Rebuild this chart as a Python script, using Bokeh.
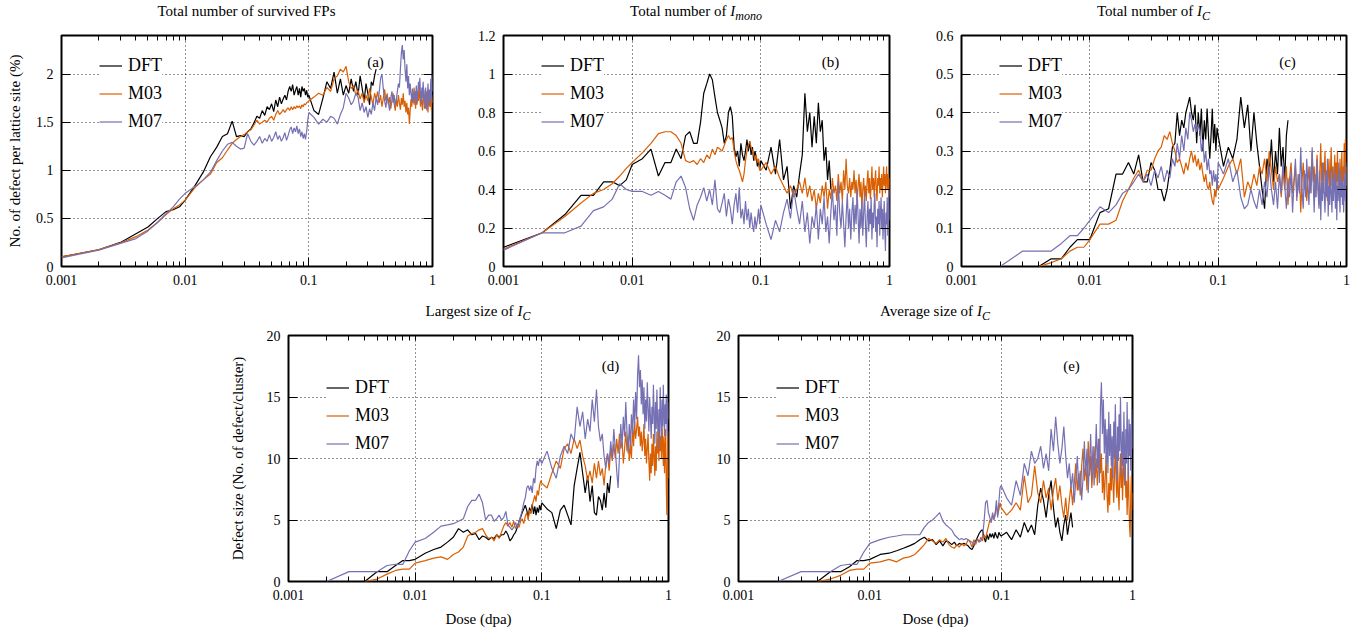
import numpy as np
from bokeh.plotting import figure
from bokeh.models import (Range1d, FixedTicker, PrintfTickFormatter, LogAxis,
                          LinearAxis, Label, Spacer, Div)
from bokeh.layouts import row, column
from bokeh.embed import file_html
from bokeh.resources import INLINE

FONT = "Liberation Serif"
COLORS = {"DFT": "#000000", "M03": "#d95f02", "M07": "#7570b3"}

# ---------------- dose grid (dpa) ----------------
dose = [0.001, 0.002, 0.003, 0.004, 0.005, 0.006, 0.007, 0.008, 0.009,
        0.010, 0.012, 0.014, 0.016, 0.018, 0.020, 0.022, 0.024, 0.026, 0.028,
        0.030, 0.032, 0.034, 0.036, 0.038, 0.040, 0.042, 0.044, 0.046, 0.048,
        0.050, 0.052, 0.054, 0.056, 0.058, 0.060, 0.062, 0.064, 0.066, 0.068,
        0.070, 0.072, 0.074, 0.076, 0.078, 0.080, 0.082, 0.084, 0.086, 0.088,
        0.090, 0.092, 0.094, 0.096, 0.098,
        0.10, 0.11, 0.12, 0.13, 0.14, 0.15, 0.16, 0.17, 0.18, 0.19,
        0.20, 0.21, 0.22, 0.23, 0.24, 0.25, 0.26, 0.27, 0.28, 0.29,
        0.30, 0.31, 0.32, 0.33, 0.34, 0.35, 0.36, 0.37, 0.38, 0.39,
        0.40, 0.41, 0.42, 0.43, 0.44, 0.45, 0.46, 0.47, 0.48, 0.49,
        0.50, 0.51, 0.52, 0.53, 0.54, 0.55, 0.56, 0.57, 0.58, 0.59,
        0.60, 0.61, 0.62, 0.63, 0.64, 0.65, 0.66, 0.67, 0.68, 0.69,
        0.70, 0.71, 0.72, 0.73, 0.74, 0.75, 0.76, 0.77, 0.78, 0.79,
        0.80, 0.81, 0.82, 0.83, 0.84, 0.85, 0.86, 0.87, 0.88, 0.89,
        0.90, 0.91, 0.92, 0.93, 0.94, 0.95, 0.96, 0.97, 0.98, 0.99, 1.00]

x_major = [0.001, 0.01, 0.1, 1]
x_minor = [0.002, 0.003, 0.004, 0.005, 0.006, 0.007, 0.008, 0.009,
           0.02, 0.03, 0.04, 0.05, 0.06, 0.07, 0.08, 0.09,
           0.2, 0.3, 0.4, 0.5, 0.6, 0.7, 0.8, 0.9]

# ---------------- (a) total number of survived FPs (%) ----------------
fps_dft = [0.10, 0.174, 0.25, 0.34, 0.41, 0.50, 0.57, 0.59, 0.62,
           0.69, 0.84, 0.98, 1.14, 1.24, 1.35, 1.38, 1.51, 1.35, 1.36,
           1.35, 1.40, 1.43, 1.49, 1.56, 1.54, 1.62, 1.57, 1.66, 1.63,
           1.69, 1.61, 1.73, 1.66, 1.76, 1.69, 1.74, 1.78, 1.73, 1.82,
           1.87, 1.82, 1.89, 1.78, 1.83, 1.87, 1.78, 1.85, 1.76, 1.87,
           1.82, 1.85, 1.78, 1.83, 1.76,
           1.78, 1.62, 1.58, 1.75, 1.92, 1.85, 2.02, 1.80, 1.95, 1.78,
           1.88, 1.80, 1.95, 1.82, 1.92, 1.78, 1.98, 1.85, 1.72, 1.90,
           1.80, 1.68, 1.92, 1.88, 1.98, 2.05]
fps_m03 = [0.10, 0.175, 0.245, 0.31, 0.38, 0.46, 0.54, 0.60, 0.64,
           0.69, 0.82, 0.90, 0.96, 1.08, 1.13, 1.21, 1.28, 1.32, 1.35,
           1.37, 1.40, 1.42, 1.47, 1.52, 1.48, 1.50, 1.52, 1.50, 1.54,
           1.56, 1.52, 1.58, 1.62, 1.58, 1.60, 1.63, 1.60, 1.63, 1.65,
           1.62, 1.66, 1.63, 1.66, 1.64, 1.67, 1.65, 1.67, 1.64, 1.68,
           1.66, 1.69, 1.68, 1.70, 1.71,
           1.72, 1.76, 1.80, 1.78, 1.86, 1.82, 1.95, 1.98, 2.05, 2.02,
           2.08, 1.92, 1.85, 1.88, 1.78, 1.83, 1.74, 1.80, 1.70, 1.78,
           1.72, 1.85, 1.76, 1.68, 1.80, 1.74, 1.82, 1.70, 1.78, 1.66,
           1.75, 1.84, 1.72, 1.80, 1.68, 1.76, 1.64, 1.73, 1.80, 1.69,
           1.62, 1.74, 1.66, 1.78, 1.70, 1.63, 1.75, 1.68, 1.80, 1.66,
           1.72, 1.60, 1.70, 1.58, 1.65, 1.48, 1.62, 1.74, 1.66, 1.80,
           1.70, 1.86, 1.75, 1.64, 1.78, 1.68, 1.82, 1.72, 1.90, 1.76,
           1.66, 1.80, 1.70, 1.62, 1.76, 1.84, 1.68, 1.78, 1.64, 1.74,
           1.82, 1.70, 1.60, 1.76, 1.68, 1.80, 1.66, 1.74, 1.62, 1.78,
           1.70]
fps_m07 = [0.09, 0.17, 0.24, 0.29, 0.37, 0.46, 0.55, 0.62, 0.70,
           0.76, 0.83, 0.90, 0.98, 1.10, 1.20, 1.27, 1.29, 1.25, 1.22,
           1.23, 1.38, 1.30, 1.26, 1.30, 1.35, 1.28, 1.33, 1.30, 1.37,
           1.30, 1.34, 1.40, 1.32, 1.36, 1.30, 1.34, 1.39, 1.31, 1.36,
           1.42, 1.45, 1.38, 1.44, 1.40, 1.46, 1.38, 1.43, 1.35, 1.40,
           1.33, 1.38, 1.32, 1.40, 1.52,
           1.60, 1.55, 1.48, 1.53, 1.50, 1.56, 1.54, 1.48, 1.58, 1.65,
           1.80, 1.75, 1.68, 1.72, 1.80, 1.76, 1.62, 1.70, 1.60, 1.66,
           1.55, 1.64, 1.58, 1.70, 1.62, 1.76, 1.68, 1.80, 1.95, 2.00,
           1.85, 1.72, 1.65, 1.78, 1.70, 1.62, 1.75, 1.82, 1.70, 1.78,
           1.66, 1.74, 1.82, 1.90, 1.86, 2.05, 2.22, 2.30, 2.15, 2.25,
           2.05, 1.92, 2.10, 1.85, 1.98, 1.78, 1.90, 1.80, 1.72, 1.85,
           1.76, 1.68, 1.82, 1.74, 1.88, 1.70, 1.80, 1.92, 1.84, 1.96,
           1.78, 1.70, 1.86, 1.75, 1.92, 1.80, 1.64, 1.76, 1.86, 1.70,
           1.62, 1.78, 1.90, 1.72, 1.84, 1.66, 1.80, 1.95, 1.74, 2.00,
           1.82]

# ---------------- (b) total number of I_mono ----------------
imono_dft = [0.10, 0.175, 0.27, 0.37, 0.37, 0.44, 0.44, 0.42, 0.45,
             0.53, 0.56, 0.61, 0.47, 0.54, 0.54, 0.61, 0.56, 0.68, 0.70,
             0.64, 0.64, 0.75, 0.90, 0.95, 1.00, 0.97, 0.88, 0.80, 0.76,
             0.72, 0.64, 0.68, 0.80, 0.83, 0.78, 0.62, 0.57, 0.60, 0.52,
             0.64, 0.58, 0.55, 0.60, 0.66, 0.60, 0.65, 0.58, 0.62, 0.55,
             0.60, 0.57, 0.52, 0.55, 0.50,
             0.55, 0.50, 0.62, 0.48, 0.66, 0.45, 0.52, 0.30, 0.42, 0.36,
             0.48, 0.58, 0.90, 0.70, 0.80, 0.62, 0.78, 0.64, 0.85, 0.70,
             0.76, 0.55, 0.62, 0.45, 0.55, 0.40]
imono_m03 = [0.09, 0.175, 0.26, 0.33, 0.38, 0.40, 0.43, 0.47, 0.51,
             0.54, 0.59, 0.64, 0.69, 0.70, 0.70, 0.68, 0.64, 0.55, 0.54,
             0.55, 0.53, 0.56, 0.54, 0.58, 0.56, 0.61, 0.58, 0.62, 0.61,
             0.60, 0.63, 0.66, 0.68, 0.66, 0.67, 0.60, 0.55, 0.52, 0.50,
             0.47, 0.44, 0.48, 0.55, 0.60, 0.63, 0.65, 0.62, 0.60, 0.58,
             0.55, 0.58, 0.54, 0.56, 0.50,
             0.50, 0.54, 0.48, 0.52, 0.46, 0.42, 0.38, 0.42, 0.36, 0.40,
             0.44, 0.38, 0.46, 0.36, 0.42, 0.34, 0.40, 0.30, 0.38, 0.33,
             0.42, 0.36, 0.44, 0.30, 0.40, 0.35, 0.46, 0.38, 0.42, 0.34,
             0.48, 0.38, 0.44, 0.34, 0.50, 0.40, 0.56, 0.42, 0.38, 0.46,
             0.36, 0.44, 0.40, 0.50, 0.38, 0.45, 0.34, 0.42, 0.48, 0.36,
             0.44, 0.30, 0.40, 0.46, 0.36, 0.42, 0.34, 0.44, 0.50, 0.38,
             0.46, 0.35, 0.42, 0.52, 0.40, 0.46, 0.36, 0.44, 0.50, 0.40,
             0.34, 0.46, 0.42, 0.52, 0.38, 0.46, 0.40, 0.48, 0.36, 0.44,
             0.52, 0.42, 0.48, 0.38, 0.46, 0.52, 0.40, 0.48, 0.44, 0.36,
             0.46]
imono_m07 = [0.085, 0.175, 0.175, 0.21, 0.29, 0.31, 0.35, 0.43, 0.40,
             0.39, 0.39, 0.37, 0.39, 0.37, 0.35, 0.44, 0.47, 0.41, 0.30,
             0.24, 0.32, 0.36, 0.41, 0.34, 0.40, 0.32, 0.45, 0.30, 0.28,
             0.33, 0.38, 0.26, 0.35, 0.30, 0.22, 0.32, 0.38, 0.28, 0.41,
             0.25, 0.30, 0.22, 0.34, 0.24, 0.30, 0.20, 0.28, 0.22, 0.18,
             0.26, 0.20, 0.24, 0.30, 0.22,
             0.32, 0.22, 0.14, 0.24, 0.18, 0.28, 0.35, 0.25, 0.40, 0.30,
             0.22, 0.34, 0.18, 0.28, 0.12, 0.26, 0.20, 0.32, 0.14, 0.30,
             0.22, 0.36, 0.18, 0.26, 0.12, 0.28, 0.40, 0.24, 0.32, 0.16,
             0.44, 0.28, 0.20, 0.34, 0.22, 0.10, 0.26, 0.38, 0.20, 0.30,
             0.14, 0.28, 0.36, 0.18, 0.32, 0.22, 0.40, 0.26, 0.12, 0.30,
             0.20, 0.34, 0.16, 0.28, 0.38, 0.22, 0.10, 0.26, 0.34, 0.18,
             0.30, 0.22, 0.36, 0.14, 0.28, 0.20, 0.32, 0.38, 0.18, 0.26,
             0.10, 0.30, 0.22, 0.34, 0.16, 0.28, 0.36, 0.20, 0.30, 0.14,
             0.26, 0.34, 0.18, 0.08, 0.28, 0.22, 0.36, 0.16, 0.30, 0.40,
             0.24]

# ---------------- (c) total number of I_C (DFT, M03 from 0.004; M07 from 0.002) ----------------
ic_dft = [0.0, 0.02, 0.02, 0.05, 0.07, 0.07,
          0.07, 0.14, 0.15, 0.24, 0.24, 0.27, 0.24, 0.29, 0.22, 0.22,
          0.27, 0.25, 0.20, 0.20, 0.17, 0.20, 0.25, 0.31, 0.32, 0.40,
          0.34, 0.38, 0.36, 0.40, 0.42, 0.44, 0.40, 0.38, 0.42, 0.32,
          0.40, 0.34, 0.41, 0.30, 0.38, 0.33, 0.41, 0.34, 0.28, 0.34,
          0.41, 0.32, 0.37, 0.30, 0.36,
          0.34, 0.26, 0.31, 0.28, 0.33, 0.44, 0.36, 0.42, 0.30, 0.40,
          0.32, 0.26, 0.20, 0.15, 0.28, 0.24, 0.33, 0.22, 0.30, 0.24,
          0.36, 0.26, 0.31, 0.22, 0.34, 0.38]
ic_m03 = [0.0, 0.01, 0.02, 0.04, 0.05, 0.05,
          0.07, 0.11, 0.11, 0.12, 0.17, 0.20, 0.23, 0.25, 0.22, 0.25,
          0.25, 0.28, 0.30, 0.31, 0.34, 0.33, 0.35, 0.32, 0.30, 0.27,
          0.28, 0.26, 0.24, 0.27, 0.25, 0.28, 0.30, 0.27, 0.29, 0.26,
          0.28, 0.25, 0.27, 0.24, 0.22, 0.24, 0.21, 0.20, 0.22, 0.19,
          0.17, 0.16, 0.20, 0.18, 0.22,
          0.20, 0.23, 0.26, 0.28, 0.24, 0.28, 0.18, 0.22, 0.20, 0.24,
          0.21, 0.26, 0.24, 0.28, 0.22, 0.30, 0.25, 0.20, 0.26, 0.22,
          0.24, 0.18, 0.25, 0.20, 0.26, 0.16, 0.23, 0.27, 0.19, 0.22,
          0.26, 0.18, 0.21, 0.24, 0.14, 0.22, 0.27, 0.20, 0.24, 0.17,
          0.22, 0.26, 0.19, 0.23, 0.30, 0.22, 0.26, 0.18, 0.24, 0.29,
          0.21, 0.16, 0.25, 0.32, 0.22, 0.27, 0.19, 0.24, 0.30, 0.20,
          0.25, 0.17, 0.23, 0.28, 0.20, 0.25, 0.31, 0.21, 0.26, 0.18,
          0.24, 0.29, 0.20, 0.27, 0.22, 0.30, 0.19, 0.25, 0.21, 0.28,
          0.18, 0.24, 0.30, 0.20, 0.26, 0.22, 0.32, 0.24, 0.33, 0.20,
          0.26]
ic_m07 = [0.0, 0.04, 0.04, 0.04, 0.06, 0.08, 0.08, 0.10,
          0.12, 0.155, 0.14, 0.16, 0.19, 0.20, 0.22, 0.24, 0.22, 0.24,
          0.21, 0.25, 0.23, 0.26, 0.22, 0.25, 0.23, 0.28, 0.26, 0.32,
          0.28, 0.34, 0.30, 0.36, 0.33, 0.40, 0.38, 0.35, 0.37, 0.35,
          0.37, 0.35, 0.30, 0.33, 0.27, 0.30, 0.25, 0.28, 0.24, 0.25,
          0.21, 0.25, 0.22, 0.24, 0.20,
          0.27, 0.24, 0.28, 0.22, 0.25, 0.18, 0.15, 0.16, 0.20, 0.17,
          0.15, 0.20, 0.16, 0.22, 0.18, 0.26, 0.20, 0.16, 0.22, 0.15,
          0.24, 0.19, 0.27, 0.21, 0.15, 0.23, 0.18, 0.25, 0.14, 0.22,
          0.28, 0.17, 0.24, 0.19, 0.31, 0.20, 0.15, 0.25, 0.18, 0.28,
          0.21, 0.16, 0.26, 0.19, 0.31, 0.22, 0.14, 0.24, 0.18, 0.28,
          0.20, 0.15, 0.25, 0.12, 0.22, 0.17, 0.27, 0.19, 0.14, 0.24,
          0.18, 0.28, 0.13, 0.21, 0.16, 0.25, 0.19, 0.14, 0.23, 0.17,
          0.26, 0.20, 0.15, 0.24, 0.12, 0.21, 0.17, 0.27, 0.19, 0.14,
          0.23, 0.18, 0.25, 0.16, 0.22, 0.14, 0.20, 0.24, 0.17, 0.27,
          0.21]

# ---------------- (d) largest size of I_C ----------------
lg_dft = [0.0, 0.8, 0.8, 1.3, 1.7, 1.7,
          1.8, 2.3, 2.6, 2.8, 3.2, 3.6, 4.3, 4.0, 4.2, 3.8,
          3.9, 3.4, 3.7, 3.6, 3.4, 3.6, 3.5, 3.8, 3.6, 3.8,
          3.8, 4.1, 3.8, 3.3, 3.5, 3.8, 4.0, 4.4, 4.9, 5.2,
          5.6, 5.9, 6.2, 5.8, 5.2, 6.0, 5.6, 6.3, 5.5, 6.1,
          5.4, 6.0, 5.6, 6.2, 5.8,
          6.4, 5.9, 5.6, 4.3, 5.8, 6.2, 5.4, 4.6, 7.8, 9.2,
          10.5, 8.8, 7.2, 8.6, 6.5, 7.8, 5.6, 5.4, 6.9, 6.6,
          5.8, 7.2, 6.0, 8.0, 7.2, 8.6]
lg_m03 = [0.0, 0.2, 0.6, 0.9, 1.0, 1.0,
          1.5, 1.7, 1.9, 2.0, 1.8, 2.2, 2.4, 2.8, 3.7, 3.9,
          4.0, 4.2, 4.3, 3.8, 3.5, 3.6, 3.3, 3.8, 3.5, 4.0,
          4.5, 4.8, 4.5, 4.8, 4.4, 4.9, 4.3, 4.6, 4.4, 4.9,
          5.1, 4.7, 5.3, 5.6, 5.0, 5.8, 5.5, 6.2, 6.6, 7.0,
          6.5, 7.4, 7.0, 7.8, 8.2,
          8.0, 7.6, 8.8, 9.8, 9.2, 10.8, 11.2, 10.4, 11.6, 10.8,
          11.5, 10.2, 9.4, 8.2, 9.0, 8.0, 9.6, 8.4, 9.8, 8.6,
          9.2, 7.8, 9.6, 10.4, 9.0, 10.8, 9.8, 11.2, 10.0, 11.6,
          10.4, 12.0, 10.8, 11.4, 9.6, 10.8, 12.2, 10.6, 11.8, 9.8,
          11.2, 10.0, 12.6, 11.0, 13.0, 11.6, 12.4, 13.4, 11.8, 12.6,
          11.0, 12.2, 10.6, 11.4, 12.8, 10.2, 11.6, 9.6, 10.8, 12.0,
          9.8, 8.2, 10.4, 8.8, 11.2, 9.4, 12.0, 10.2, 8.6, 11.0,
          9.0, 12.2, 10.4, 11.6, 9.8, 12.4, 10.6, 11.8, 10.0, 12.6,
          11.2, 9.4, 11.8, 8.8, 10.6, 12.4, 8.0, 5.4, 9.6, 12.2,
          8.4]
lg_m07 = [0.0, 0.8, 0.8, 0.8, 1.3, 1.4, 1.4, 2.5,
          3.2, 3.5, 4.0, 4.5, 4.6, 4.7, 4.9, 5.1, 6.1, 6.6,
          6.6, 7.1, 6.4, 5.0, 5.4, 5.4, 4.9, 5.1, 5.4, 5.0,
          5.2, 5.7, 4.6, 4.4, 4.2, 4.4, 4.8, 4.4, 4.9, 5.3,
          5.8, 6.4, 6.8, 7.6, 7.8, 7.4, 7.8, 7.2, 8.4, 8.0,
          9.2, 9.8, 9.4, 10.0, 9.8,
          9.6, 10.6, 9.2, 8.4, 10.2, 11.0, 10.4, 12.0, 11.4, 14.2,
          12.6, 13.8, 11.6, 13.2, 12.2, 14.8, 13.0, 15.6, 12.6, 11.4,
          12.0, 10.2, 9.2, 10.4, 9.6, 11.4, 10.0, 12.4, 10.8, 9.0,
          7.6, 10.2, 12.8, 11.0, 13.4, 11.8, 14.6, 12.2, 10.4, 12.8,
          11.0, 13.6, 12.0, 14.8, 12.6, 15.4, 13.2, 16.8, 18.4, 15.8,
          17.2, 14.4, 16.4, 13.6, 15.8, 12.4, 14.8, 13.0, 16.2, 14.0,
          12.2, 15.0, 13.4, 11.6, 14.2, 12.8, 16.0, 13.6, 11.2, 14.6,
          12.4, 15.6, 13.0, 10.8, 14.0, 12.2, 15.8, 13.4, 11.6, 14.8,
          12.6, 16.0, 13.8, 11.8, 14.4, 12.8, 15.2, 13.0, 11.8, 14.6,
          13.2]

# ---------------- (e) average size of I_C ----------------
av_dft = [0.0, 0.8, 0.8, 1.2, 1.7, 1.7,
          1.8, 2.2, 2.3, 2.5, 2.7, 2.9, 3.1, 3.4, 3.6, 3.3,
          3.4, 3.0, 3.3, 2.9, 3.3, 3.2, 3.0, 3.2, 2.9, 3.1,
          3.0, 3.1, 3.0, 2.9, 2.7, 2.6, 2.9, 3.3, 3.6, 3.9,
          4.1, 4.2, 3.6, 3.2, 3.8, 3.4, 3.9, 3.6, 3.9, 3.5,
          4.0, 3.7, 3.5, 4.0, 3.8,
          3.7, 4.0, 3.4, 4.2, 3.6, 4.8, 4.0, 4.6, 3.8, 6.2,
          7.6, 6.6, 5.2, 7.0, 8.2, 6.0, 4.4, 5.2, 4.0, 3.3,
          4.6, 5.4, 3.8, 4.8, 5.6, 4.4]
av_m03 = [0.0, 0.2, 0.5, 0.9, 1.0, 1.0,
          1.5, 1.6, 1.8, 1.6, 1.9, 2.0, 2.2, 2.6, 3.0, 3.5,
          3.3, 3.1, 3.4, 3.2, 3.5, 3.0, 2.8, 2.7, 3.0, 2.8,
          3.1, 2.9, 3.0, 3.4, 3.2, 2.8, 3.4, 3.0, 3.5, 3.2,
          3.6, 3.3, 3.8, 3.5, 4.0, 4.5, 5.0, 4.8, 5.4, 5.2,
          5.6, 6.2, 5.4, 5.8, 6.4,
          6.0, 5.4, 5.8, 6.4, 5.8, 8.6, 6.4, 7.0, 9.4, 7.2,
          6.4, 8.2, 6.8, 7.6, 5.8, 7.4, 8.4, 6.6, 7.8, 6.2,
          5.2, 6.8, 5.0, 6.6, 7.8, 6.2, 8.0, 9.6, 7.4, 8.8,
          7.0, 9.4, 10.8, 8.2, 9.6, 7.4, 11.4, 8.6, 10.2, 7.6,
          9.2, 11.0, 8.4, 10.0, 7.8, 9.4, 11.6, 8.8, 10.4, 7.2,
          9.0, 6.6, 8.4, 10.2, 7.0, 5.6, 8.0, 6.2, 9.2, 7.4,
          10.6, 8.0, 6.4, 9.0, 11.2, 8.2, 6.8, 9.8, 7.2, 5.8,
          8.6, 10.4, 7.6, 9.2, 6.6, 8.8, 10.8, 7.8, 9.6, 6.8,
          8.2, 5.4, 7.4, 9.8, 6.2, 4.4, 3.6, 7.0, 8.6, 5.8,
          7.2]
av_m07 = [0.0, 0.8, 0.8, 0.8, 1.3, 1.4, 1.4, 2.4,
          3.1, 3.4, 3.6, 3.7, 3.8, 3.8, 3.8, 3.8, 4.4, 4.8,
          5.0, 5.3, 5.6, 4.9, 4.6, 4.4, 4.2, 3.8, 3.6, 3.4,
          3.5, 3.4, 3.5, 3.4, 3.3, 3.2, 3.0, 3.2, 3.4, 3.2,
          3.3, 3.6, 4.8, 6.4, 6.6, 5.6, 5.2, 4.8, 5.6, 5.0,
          5.4, 6.6, 5.2, 6.4, 7.6,
          7.8, 6.8, 6.2, 8.2, 7.0, 9.6, 8.6, 10.6, 9.6, 10.0,
          11.0, 9.2, 10.4, 9.0, 12.4, 10.6, 13.4, 11.2, 9.6, 10.8,
          12.6, 10.2, 8.4, 9.6, 7.6, 8.8, 6.4, 8.2, 10.2, 7.4,
          9.0, 6.6, 8.4, 11.4, 8.6, 10.8, 7.2, 9.6, 12.0, 8.4,
          11.0, 7.8, 10.0, 12.8, 9.2, 11.6, 8.0, 14.2, 16.2, 12.0,
          14.8, 10.4, 13.2, 9.6, 12.4, 8.8, 13.8, 10.2, 12.8, 9.4,
          11.8, 8.4, 13.0, 10.0, 14.4, 11.0, 8.2, 12.6, 9.8, 13.6,
          10.6, 15.0, 11.4, 8.6, 12.2, 9.4, 13.8, 10.6, 7.8, 12.4,
          9.6, 14.6, 11.0, 8.4, 13.2, 10.2, 12.8, 9.0, 11.6, 14.0,
          10.8]

# first dose index of each series
START = {"fps": (0, 0, 0), "imono": (0, 0, 0), "ic": (3, 3, 1),
         "lg": (3, 3, 1), "av": (3, 3, 1)}
SERIES = {
    "fps": (fps_dft, fps_m03, fps_m07),
    "imono": (imono_dft, imono_m03, imono_m07),
    "ic": (ic_dft, ic_m03, ic_m07),
    "lg": (lg_dft, lg_m03, lg_m07),
    "av": (av_dft, av_m03, av_m07),
}
NAMES = ("DFT", "M03", "M07")

TITLE_TOP = 30   # height of the title strip above each row of panels


def style_axis(ax):
    ax.axis_line_color = None
    ax.major_tick_out = 0
    ax.minor_tick_out = 0
    ax.major_tick_line_color = "black"
    ax.minor_tick_line_color = "black"
    ax.major_tick_line_width = 1
    ax.minor_tick_line_width = 1
    ax.major_label_text_font = FONT
    ax.major_label_text_color = "black"
    ax.major_label_text_font_size = "14px"
    ax.major_label_standoff = 8


def title_div(html, width, bl, fw):
    style = ("width:%dpx;margin-left:%dpx;margin-top:4px;text-align:center;"
             "font-family:'Liberation Serif';font-size:15px;line-height:15px;"
             "color:#000;white-space:nowrap" % (fw, bl))
    return Div(text='<div style="%s">%s</div>' % (style, html),
               width=width, height=TITLE_TOP, margin=(0, 0, 0, 0))


def sub(txt):
    return ('<i>I</i><span style="font-style:italic;font-size:12px;'
            'position:relative;top:4px">%s</span>' % txt)


def make_panel(key, width, height, bl, br, bb, y_end, y_ticks,
               tag, tag_x, tag_y, legend_y,
               ylabel=None, ylabel_standoff=10, xlabel=None):
    bt = 5
    p = figure(width=width, height=height, x_axis_type="log",
               x_range=Range1d(0.001, 1), y_range=Range1d(0, y_end),
               output_backend="svg", toolbar_location=None, title=None,
               min_border_left=bl, min_border_right=br,
               min_border_top=bt, min_border_bottom=bb)
    p.background_fill_color = "white"
    p.border_fill_color = "white"
    p.outline_line_color = "black"
    p.outline_line_width = 2

    fh = height - bt - bb

    xa = p.xaxis[0]
    xa.ticker = FixedTicker(ticks=x_major, minor_ticks=x_minor)
    xa.formatter = PrintfTickFormatter(format="%g")
    style_axis(xa)
    xa.major_tick_in = 9
    xa.minor_tick_in = 5
    ya = p.yaxis[0]
    ya.ticker = FixedTicker(ticks=y_ticks, minor_ticks=[])
    ya.formatter = PrintfTickFormatter(format="%g")
    style_axis(ya)
    ya.major_tick_in = 9
    ya.minor_tick_in = 0

    # mirrored tick marks on top and right (no labels)
    top = LogAxis(ticker=FixedTicker(ticks=[], minor_ticks=x_major + x_minor))
    style_axis(top)
    top.major_tick_in = 0
    top.minor_tick_in = 5
    top.major_label_standoff = 0
    p.add_layout(top, "above")
    right = LinearAxis(ticker=FixedTicker(ticks=[], minor_ticks=y_ticks))
    style_axis(right)
    right.major_tick_in = 0
    right.minor_tick_in = 9
    right.major_label_standoff = 0
    p.add_layout(right, "right")

    p.xgrid.ticker = FixedTicker(ticks=x_major)
    p.ygrid.ticker = FixedTicker(ticks=y_ticks)
    for g in (p.xgrid, p.ygrid):
        g.grid_line_color = "black"
        g.grid_line_alpha = 0.85
        g.grid_line_dash = "1 3"
        g.grid_line_width = 1

    if ylabel:
        ya.axis_label = ylabel
        ya.axis_label_text_font = FONT
        ya.axis_label_text_font_style = "normal"
        ya.axis_label_text_font_size = "15px"
        ya.axis_label_text_color = "black"
        ya.axis_label_standoff = ylabel_standoff
    if xlabel:
        xa.axis_label = xlabel
        xa.axis_label_text_font = FONT
        xa.axis_label_text_font_style = "normal"
        xa.axis_label_text_font_size = "15px"
        xa.axis_label_text_color = "black"
        xa.axis_label_standoff = 8

    for name, vals, s in zip(NAMES, SERIES[key], START[key]):
        xs = dose[s:s + len(vals)]
        if len(xs) != len(vals):
            raise ValueError(f"{key} {name}: {len(vals)} values")
        p.line(np.array(xs), np.array(vals, dtype=float), line_color=COLORS[name],
               line_width=1.2, legend_label=name)

    lg = p.legend[0]
    lg.location = (38, legend_y)
    lg.label_text_font = FONT
    lg.label_text_font_size = "18px"
    lg.label_text_color = "black"
    lg.background_fill_color = "white"
    lg.background_fill_alpha = 1.0
    lg.border_line_color = None
    lg.glyph_width = 23
    lg.glyph_height = 25
    lg.label_height = 25
    lg.spacing = 3
    lg.padding = 5
    lg.label_standoff = 6
    lg.margin = 0

    p.add_layout(Label(x=tag_x, y=fh - tag_y, x_units="screen", y_units="screen",
                       text=tag, text_font=FONT, text_font_size="15px",
                       text_align="center", text_baseline="alphabetic",
                       text_color="black"))
    return p


H_TOP = 300 - TITLE_TOP
H_BOT = 331 - TITLE_TOP

pa = make_panel("fps", 470, H_TOP, 61, 38, 34, 2.4, [0, 0.5, 1, 1.5, 2],
                "(a)", 314, 26, 132,
                ylabel="No. of defect per lattice site (%)", ylabel_standoff=10)
pb = make_panel("imono", 450, H_TOP, 33, 31, 34, 1.2, [0, 0.2, 0.4, 0.6, 0.8, 1, 1.2],
                "(b)", 327, 26, 132)
pc = make_panel("ic", 440, H_TOP, 41, 14, 34, 0.6, [0, 0.1, 0.2, 0.3, 0.4, 0.5, 0.6],
                "(c)", 326, 26, 132)
pd = make_panel("lg", 470, H_BOT, 68, 22, 50, 20, [0, 5, 10, 15, 20],
                "(d)", 322, 30, 125,
                ylabel="Defect size (No. of defect/cluster)", ylabel_standoff=18,
                xlabel="Dose (dpa)")
pe = make_panel("av", 460, H_BOT, 48, 18, 50, 20, [0, 5, 10, 15, 20],
                "(e)", 333, 30, 125,
                xlabel="Dose (dpa)")

ta = title_div("Total number of survived FPs", 470, 61, 371)
tb = title_div("Total number of " + sub("mono"), 450, 33, 386)
tc = title_div("Total number of " + sub("C"), 440, 41, 385)
td = title_div("Largest size of " + sub("C"), 470, 68, 380)
te = title_div("Average size of " + sub("C"), 460, 48, 394)

layout = column(
    row(ta, tb, tc),
    row(pa, pb, pc),
    row(Spacer(width=220, height=TITLE_TOP), td, te),
    row(Spacer(width=220, height=H_BOT), pd, pe),
)

open("out.html", "w").write(file_html(layout, INLINE))
